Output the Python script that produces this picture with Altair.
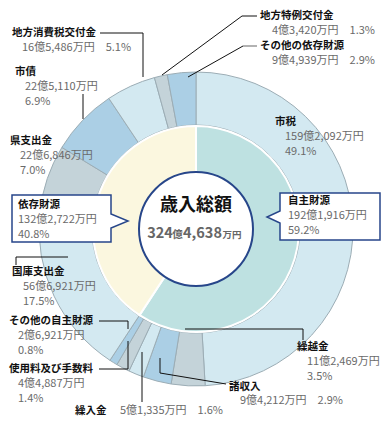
import altair as alt
import pandas as pd

# ---------------- data ----------------
items = ["市税", "繰越金", "諸収入", "繰入金", "使用料及び手数料", "その他の自主財源",
         "国庫支出金", "県支出金", "市債", "地方消費税交付金", "地方特例交付金", "その他の依存財源"]
amounts = [1592092, 112469, 94212, 51335, 44887, 26921,
           566921, 226846, 225110, 165486, 43420, 94939]  # 万円
amount_labels = ["159億2,092万円", "11億2,469万円", "9億4,212万円", "5億1,335万円",
                 "4億4,887万円", "2億6,921万円", "56億6,921万円", "22億6,846万円",
                 "22億5,110万円", "16億5,486万円", "4億3,420万円", "9億4,939万円"]
pct_labels = ["49.1%", "3.5%", "2.9%", "1.6%", "1.4%", "0.8%",
              "17.5%", "7.0%", "6.9%", "5.1%", "1.3%", "2.9%"]

groups = ["自主財源", "依存財源"]
group_amounts = [1921916, 1322722]
group_amount_labels = ["192億1,916万円", "132億2,722万円"]
group_pct_labels = ["59.2%", "40.8%"]

total_title = "歳入総額"
total_parts = ["324", "億", "4,638", "万円"]

# ---------------- layout / style ----------------
OFF = 8
W, H = 374, 412
CX, CY = 196 - OFF, 217 - OFF + 12
FONT = "Noto Sans CJK JP"
LIGHT, GRAY, BLUE = "#d3e9f1", "#c4d3d9", "#abcfe5"
TEAL, CREAM = "#bee1e1", "#fbf7df"
NAVY = "#27468a"
VAL_COLOR = "#6a6a6a"

ring_colors = [[LIGHT, GRAY, BLUE][i % 3] for i in range(len(items))]

ring_df = pd.DataFrame({"item": items, "amount": amounts, "idx": range(len(items))})
pie_df = pd.DataFrame({"item": groups, "amount": group_amounts, "idx": range(len(groups))})

color_scale = alt.Scale(domain=items + groups, range=ring_colors + [TEAL, CREAM])

ring = alt.Chart(ring_df).mark_arc(outerRadius=157, innerRadius=104,
                                   stroke="#9cadb5", strokeWidth=1).encode(
    theta=alt.Theta("amount:Q", stack=True),
    order=alt.Order("idx:Q"),
    color=alt.Color("item:N", scale=color_scale, legend=None),
    x=alt.value(CX), y=alt.value(CY),
)
pie = alt.Chart(pie_df).mark_arc(outerRadius=103, innerRadius=0,
                                 stroke="white", strokeWidth=2).encode(
    theta=alt.Theta("amount:Q", stack=True),
    order=alt.Order("idx:Q"),
    color=alt.Color("item:N", scale=color_scale, legend=None),
    x=alt.value(CX), y=alt.value(CY),
)

center = alt.Chart(pd.DataFrame({"k": [0]})).mark_point(
    shape="circle", size=114 * 114, filled=True, fill="white", fillOpacity=1,
    stroke=NAVY, strokeWidth=2, strokeOpacity=1,
).encode(x=alt.value(CX), y=alt.value(CY))

# callout boxes (page coordinates of outline)
def callout(points):
    xs = [p[0] for p in points]
    ys = [p[1] for p in points]
    cx = (min(xs) + max(xs)) / 2
    cy = (min(ys) + max(ys)) / 2
    s = max(max(xs) - min(xs), max(ys) - min(ys)) / 2
    path = "M" + " L".join(f"{(x - cx) / s:.4f},{(y - cy) / s:.4f}" for x, y in points) + " Z"
    return path, cx - OFF, cy - OFF, (2 * s) ** 2

left_box = [(12, 195), (111, 195), (111, 214), (128, 221), (111, 228), (111, 242), (12, 242)]
right_box = [(280, 193), (380, 193), (380, 240), (280, 240), (280, 223), (267, 217), (280, 211)]

callouts = []
for pts in (left_box, right_box):
    path, bx, by, size = callout(pts)
    callouts.append(
        alt.Chart(pd.DataFrame({"k": [0]})).mark_point(
            shape=path, size=size, filled=True, fill="white", fillOpacity=1,
            stroke=NAVY, strokeWidth=1.5, strokeOpacity=1,
        ).encode(x=alt.value(bx), y=alt.value(by))
    )

# label layout: (name_x, name_y, value_x, value_y, pct_x, pct_y)  pct None -> inline
label_layout = {
    "市税": (275, 122, 285, 137, 285, 152),
    "繰越金": (297, 347, 307, 362, 307, 377),
    "諸収入": (229, 387, 240, 401, None, None),
    "繰入金": (75, 411, 120, 411, None, None),
    "使用料及び手数料": (9, 369, 18, 384, 18, 399),
    "その他の自主財源": (9, 321, 18, 336, 18, 351),
    "国庫支出金": (12, 272, 23, 287, 23, 302),
    "県支出金": (10, 141, 20, 156, 20, 171),
    "市債": (15, 72, 25, 87, 25, 102),
    "地方消費税交付金": (12, 33, 22, 48, None, None),
    "地方特例交付金": (260, 16, 272, 31, None, None),
    "その他の依存財源": (260, 46, 272, 61, None, None),
}

name_rows, val_rows = [], []
for it, amt, pct in zip(items, amount_labels, pct_labels):
    nx, ny, vx, vy, px, py = label_layout[it]
    name_rows.append({"x": nx - OFF, "y": ny - OFF, "text": it})
    if px is None:
        val_rows.append({"x": vx - OFF, "y": vy - OFF, "text": f"{amt}　{pct}"})
    else:
        val_rows.append({"x": vx - OFF, "y": vy - OFF, "text": amt})
        val_rows.append({"x": px - OFF, "y": py - OFF, "text": pct})

box_layout = {"自主財源": (288, 201, 216, 231), "依存財源": (18, 205, 220, 235)}
for g, amt, pct in zip(groups, group_amount_labels, group_pct_labels):
    bx, ny, vy, py = box_layout[g]
    name_rows.append({"x": bx - OFF, "y": ny - OFF, "text": g})
    val_rows.append({"x": bx - OFF, "y": vy - OFF, "text": amt})
    val_rows.append({"x": bx - OFF, "y": py - OFF, "text": pct})

X = alt.X("x:Q", scale=None, axis=None)
Y = alt.Y("y:Q", scale=None, axis=None)

names = alt.Chart(pd.DataFrame(name_rows)).mark_text(
    align="left", baseline="middle", font=FONT, fontSize=10.5, fontWeight="bold", color="#111111"
).encode(x=X, y=Y, text="text:N")
vals = alt.Chart(pd.DataFrame(val_rows)).mark_text(
    align="left", baseline="middle", font=FONT, fontSize=11, color=VAL_COLOR
).encode(x=X, y=Y, text="text:N")

center_title = alt.Chart(pd.DataFrame([{"x": 196 - OFF, "y": 206 - OFF, "text": total_title}])).mark_text(
    align="center", baseline="middle", font=FONT, fontSize=18, fontWeight="bold", color="#111111"
).encode(x=X, y=Y, text="text:N")

# total amount: big digits, small units, on one baseline
part_x = [160, 177.5, 202.5, 232]
part_size = [14.5, 10.5, 14.5, 9.5]
total_rows = pd.DataFrame({"x": [v - OFF for v in part_x], "y": [238 - OFF] * 4,
                           "text": total_parts, "s": part_size})
center_val = alt.Chart(total_rows).mark_text(
    align="center", baseline="alphabetic", font=FONT, fontWeight="bold", color="#666666"
).encode(x=X, y=Y, text="text:N", size=alt.Size("s:Q", scale=None, legend=None))

# leader lines (page coordinates)
leaders = {
    "地方特例交付金": [(162, 75), (242, 16), (257, 16)],
    "その他の依存財源": [(188, 77), (243, 46)],
    "地方消費税交付金": [(100, 33), (143, 33), (143, 77)],
    "市債": [(83, 94), (83, 119)],
    "国庫支出金": [(16, 265), (16, 257), (68, 257)],
    "その他の自主財源": [(99, 321), (128, 321), (128, 329)],
    "使用料及び手数料": [(99, 369), (128, 369), (128, 341)],
    "繰入金": [(142, 352), (142, 402)],
    "諸収入": [(160, 358), (160, 373), (226, 384)],
    "繰越金": [(185, 329), (303, 329), (303, 340)],
}
lrows = []
for g, pts in leaders.items():
    for i, (x, y) in enumerate(pts):
        lrows.append({"g": g, "o": i, "x": x - OFF, "y": y - OFF})
lines = alt.Chart(pd.DataFrame(lrows)).mark_line(color="#111111", strokeWidth=1).encode(
    x=X, y=Y, detail="g:N", order="o:Q")
gray_rows = pd.DataFrame([{"g": "a", "o": 0, "x": 243 - OFF, "y": 46 - OFF},
                          {"g": "a", "o": 1, "x": 257 - OFF, "y": 46 - OFF}])
gray_line = alt.Chart(gray_rows).mark_line(color="#999999", strokeWidth=1.5).encode(
    x=X, y=Y, detail="g:N", order="o:Q")

chart = alt.layer(
    ring, pie, lines, gray_line, center, *callouts, names, vals, center_title, center_val
).properties(width=W, height=H, padding=0, autosize="none").configure_view(stroke=None)

chart.save("out.html", embed_options={"renderer": "svg", "actions": False})
